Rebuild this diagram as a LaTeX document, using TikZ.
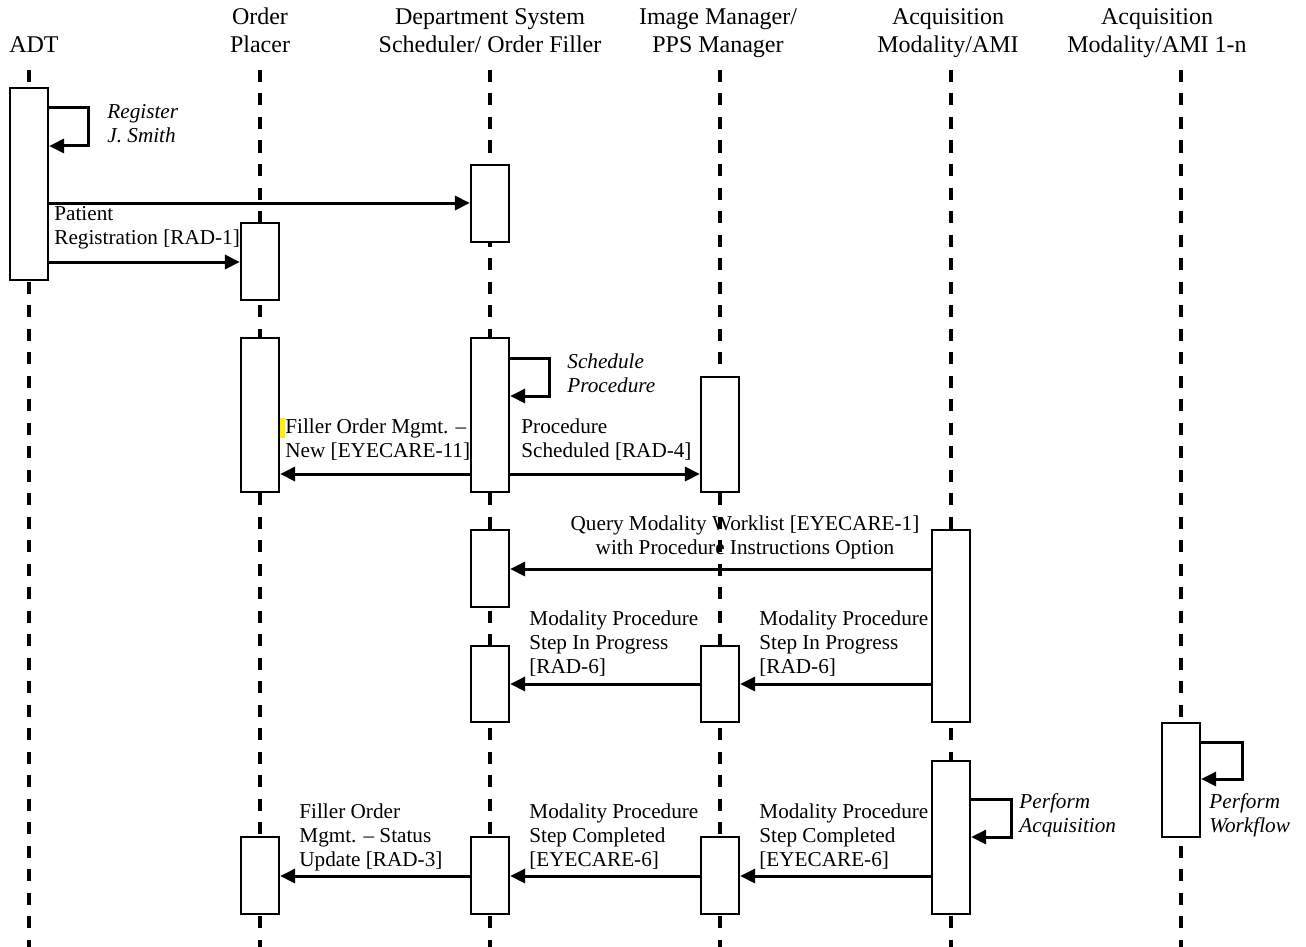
\documentclass[tikz,border=0pt]{standalone}
\usepackage{fontspec}
\setmainfont{Liberation Serif}
\usetikzlibrary{arrows.meta,positioning,calc}

\begin{document}
\begin{tikzpicture}[
        x=0.5pt, y=-0.5pt,
        lifeline/.style={line width=1.6pt, dash pattern=on 6pt off 5.75pt},
        actbox/.style={rectangle, draw, fill=white, line width=1.1pt,
            minimum width=19pt, minimum height=#1, inner sep=0pt},
        head/.style={align=center, inner sep=0pt, anchor=base, font=\fontsize{12}{14}\selectfont},
        msglabel/.style={align=left, anchor=west, inner sep=0pt, font=\fontsize{10.6}{12}\selectfont},
        note/.style={msglabel, font=\fontsize{10.6}{12}\selectfont\itshape},
        msg/.style={-{Triangle[length=7.5pt,width=7pt]}, line width=1.5pt}
    ]
        \useasboundingbox (0,0) rectangle (1306,947);
        % headers
        \node[head] (hadt) at (34,53) {ADT};
        \node[head] (hop) at (260,53) {Order\\Placer};
        \node[head] (hdss) at (490,53) {Department System\\Scheduler/ Order Filler};
        \node[head] (him) at (718,53) {Image Manager/\\PPS Manager};
        \node[head] (ham) at (948,53) {Acquisition\\Modality/AMI};
        \node[head] (hamn) at (1157,53) {Acquisition\\Modality/AMI 1-n};
        % lifelines
        \foreach \lx in {29,260,490,720,951,1181}
            \draw[lifeline] (\lx,70) -- (\lx,947);
        % message rows
        \coordinate (r1) at (0,203);
        \coordinate (r2) at (0,262);
        \coordinate (r3) at (0,474);
        \coordinate (r4) at (0,569);
        \coordinate (r5) at (0,684);
        \coordinate (r6) at (0,876);
        % activation boxes
        \node[actbox=96pt] (adt1) at (29,184) {};
        \node[actbox=38.5pt] (dss1) at (490,203.5) {};
        \node[actbox=38.5pt] (op1) at (260,261.5) {};
        \node[actbox=77pt] (op2) at (260,415) {};
        \node[actbox=77pt] (dss2) at (490,415) {};
        \node[actbox=57.5pt] (im1) at (720,434.5) {};
        \node[actbox=38.5pt] (dss3) at (490,568.5) {};
        \node[actbox=96pt] (am1) at (951,626) {};
        \node[actbox=38pt] (dss4) at (490,684) {};
        \node[actbox=38pt] (im2) at (720,684) {};
        \node[actbox=57pt] (amn1) at (1181,780) {};
        \node[actbox=76.5pt] (am2) at (951,837.5) {};
        \node[actbox=38.5pt] (op3) at (260,875.5) {};
        \node[actbox=38.5pt] (dss5) at (490,875.5) {};
        \node[actbox=38.5pt] (im3) at (720,875.5) {};
        % messages
        \draw[msg] (adt1.east |- r1) -- (dss1.west |- r1);
        \draw[msg] (adt1.east |- r2) -- (op1.west |- r2);
        \draw[msg] (dss2.west |- r3) -- (op2.east |- r3);
        \draw[msg] (dss2.east |- r3) -- (im1.west |- r3);
        \draw[msg] (am1.west |- r4) -- (dss3.east |- r4);
        \draw[msg] (im2.west |- r5) -- (dss4.east |- r5);
        \draw[msg] (am1.west |- r5) -- (im2.east |- r5);
        \draw[msg] (dss5.west |- r6) -- (op3.east |- r6);
        \draw[msg] (im3.west |- r6) -- (dss5.east |- r6);
        \draw[msg] (am2.west |- r6) -- (im3.east |- r6);
        % self loops
        \draw[msg] (adt1.east |- 0,108) -| ++(39,38) -- (adt1.east |- 0,146);
        \draw[msg] (dss2.east |- 0,358) -| ++(39,38) -- (dss2.east |- 0,396);
        \draw[msg] (amn1.east |- 0,742) -| ++(41,37) -- (amn1.east |- 0,779);
        \draw[msg] (am2.east |- 0,799) -| ++(40,38) -- (am2.east |- 0,837);
        % labels
        \fill[yellow] (280,418) rectangle (285,438);
        \node[note] (lreg) at (107,124) {Register\\J. Smith};
        \node[msglabel] (lpat) at (54,228) {Patient\\Registration [RAD-1]};
        \node[note] (lsch) at (567,373.5) {Schedule\\Procedure};
        \node[msglabel] (lfom) at (285,440) {Filler Order Mgmt. --\\New [EYECARE-11]};
        \node[msglabel] (lps) at (521,440) {Procedure\\Scheduled [RAD-4]};
        \node[msglabel, align=center, anchor=center] (lqry) at (745,537)
            {Query Modality Worklist [EYECARE-1]\\with Procedure Instructions Option};
        \node[msglabel] (lip1) at (529,644) {Modality Procedure\\Step In Progress\\{}[RAD-6]};
        \node[msglabel] (lip2) at (759,644) {Modality Procedure\\Step In Progress\\{}[RAD-6]};
        \node[msglabel] (lsu) at (299,837) {Filler Order\\Mgmt. -- Status\\Update [RAD-3]};
        \node[msglabel] (lsc1) at (529,837) {Modality Procedure\\Step Completed\\{}[EYECARE-6]};
        \node[msglabel] (lsc2) at (759,837) {Modality Procedure\\Step Completed\\{}[EYECARE-6]};
        \node[note] (lacq) at (1019,815) {Perform\\Acquisition};
        \node[note] (lwf) at (1209,815) {Perform\\Workflow};
    \end{tikzpicture}
\end{document}
